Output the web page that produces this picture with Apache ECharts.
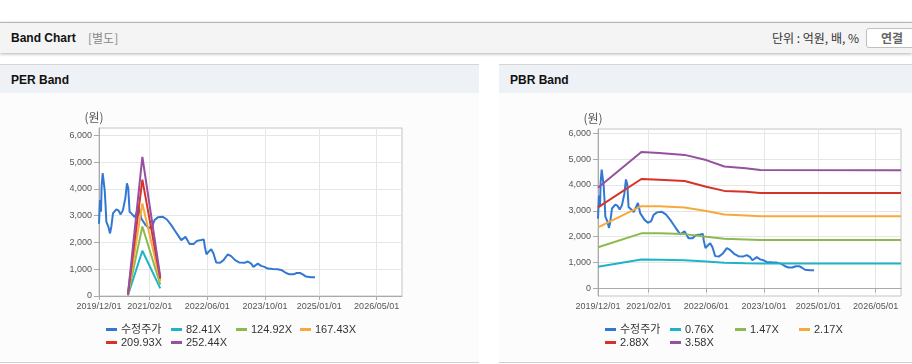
<!DOCTYPE html>
<html>
<head>
<meta charset="utf-8">
<script src="https://cdn.jsdelivr.net/npm/echarts@6/dist/echarts.min.js"></script>
<style>
  html, body { margin: 0; padding: 0; }
  body { width: 912px; height: 364px; position: relative; overflow: hidden; background: #fff;
         font-family: Arial, "Liberation Sans", "Noto Sans CJK KR", sans-serif; }
  .topbar { position: absolute; left: 0; top: 22px; width: 912px; height: 30px; background: #f4f4f4;
            border-top: 1px solid #b4b4b4; box-shadow: 0 1px 3px rgba(0,0,0,0.3); }
  .topbar .ttl { position: absolute; left: 11px; top: 8px; font-size: 12px; font-weight: bold; color: #111; }
  .topbar .sub { position: absolute; left: 88px; top: 7px; font-size: 12px; color: #888;
                 font-family: "Noto Sans CJK KR", sans-serif; line-height: 16px; }
  .topbar .unit { position: absolute; right: 53px; top: 7px; font-size: 12px; color: #333;
                  font-family: "Noto Sans CJK KR", sans-serif; line-height: 16px; }
  .topbar .btn { position: absolute; left: 866px; top: 5px; width: 56px; height: 18px; background: #fff;
                 border: 1px solid #c0c0c0; border-radius: 3px; font-size: 12px; font-weight: bold; color: #666;
                 font-family: "Noto Sans CJK KR", sans-serif; line-height: 18px; text-indent: 14px; }
  .panel { position: absolute; top: 64px; height: 298px; background: #fcfcfc; border-bottom: 1px solid #d0d0d0; }
  .panel .head { position: absolute; left: 0; top: 0; right: 0; height: 28px; background: #eef2f7;
                 border-top: 1px solid #d5d5d5; }
  .panel .head span { position: absolute; left: 11px; top: 8px; font-size: 12px; font-weight: bold; color: #111; }
  .chart { position: absolute; top: 29px; left: 0; right: 0; bottom: 0; }
</style>
</head>
<body>
<div class="topbar">
  <span class="ttl">Band Chart</span>
  <span class="sub">[별도]</span>
  <span class="unit">단위 : 억원, 배, %</span>
  <span class="btn">연결</span>
</div>
<div class="panel" style="left:0;width:479px;">
  <div class="head"><span>PER Band</span></div>
  <div class="chart" id="perChart"></div>
</div>
<div class="panel" style="left:499px;width:413px;">
  <div class="head"><span>PBR Band</span></div>
  <div class="chart" id="pbrChart"></div>
</div>
<script>
// 수정주가 (both charts)
var priceDates = ['2019/12/01','2019/12/09','2019/12/18','2019/12/23','2020/01/01','2020/01/09','2020/01/18','2020/01/26',
  '2020/02/01','2020/02/18','2020/03/03','2020/03/14','2020/03/28','2020/04/25','2020/05/15','2020/06/01','2020/06/20',
  '2020/07/10','2020/07/24','2020/08/04','2020/08/15','2020/09/07','2020/09/27','2020/11/02','2020/11/22','2020/12/28',
  '2021/01/25','2021/02/22','2021/03/14','2021/04/11','2021/05/23','2021/06/26','2021/08/02','2021/08/30','2021/09/27',
  '2021/10/25','2021/11/08','2021/11/30','2021/12/20','2022/01/03','2022/02/06','2022/03/06','2022/04/11','2022/05/04',
  '2022/05/12','2022/05/26','2022/06/12','2022/07/05','2022/07/24','2022/08/16','2022/09/18','2022/10/17','2022/11/22',
  '2022/12/20','2023/01/23','2023/02/28','2023/04/12','2023/05/10','2023/06/07','2023/06/26','2023/08/02','2023/08/30',
  '2023/09/27','2023/10/25','2023/12/06','2024/01/17','2024/02/23','2024/03/28','2024/04/25','2024/05/28','2024/06/26',
  '2024/07/24','2024/08/15','2024/09/12','2024/10/24','2024/11/27'];
var priceValues = [2700,3590,3150,4090,4590,4530,3960,3340,
  2775,2590,2340,2590,3090,3240,3190,3050,3210,
  3650,4210,4025,3150,3050,2950,3300,2900,2650,
  2540,2600,2840,2940,2960,2860,2650,2460,2275,
  2090,2060,2210,2060,1940,1940,2060,2090,2110,
  1840,1560,1650,1750,1590,1250,1240,1340,1560,
  1490,1340,1250,1240,1290,1210,1090,1210,1125,
  1090,1025,1010,1000,960,860,810,810,860,
  860,810,725,705,700];

// PER band
var perNames = ['82.41X', '124.92X', '167.43X', '209.93X', '252.44X'];
var perDates = ['2020/08/01', '2020/12/01', '2021/05/01'];
var per1 = [20, 1690, 285];
var per2 = [30, 2600, 430];
var per3 = [40, 3460, 560];
var per4 = [50, 4350, 650];
var per5 = [60, 5200, 720];

// PBR band
var pbrNames = ['0.76X', '1.47X', '2.17X', '2.88X', '3.58X'];
var pbrDates = ['2019/12/01','2020/12/01','2021/05/01','2021/12/01','2022/06/01','2022/11/01','2023/05/01','2023/09/01','2026/12/01'];
var pbr1 = [840, 1120, 1110, 1095, 1045, 995, 975, 965, 965];
var pbr2 = [1590, 2130, 2130, 2100, 2000, 1920, 1890, 1870, 1870];
var pbr3 = [2360, 3180, 3180, 3130, 2990, 2860, 2820, 2790, 2790];
var pbr4 = [3130, 4230, 4200, 4150, 3930, 3770, 3735, 3690, 3690];
var pbr5 = [3890, 5270, 5230, 5160, 4960, 4710, 4640, 4580, 4570];

var xTickLabels = ['2019/12/01', '2021/02/01', '2022/06/01', '2023/10/01', '2025/01/01', '2026/05/01'];
var yTickLabels = [0, 1000, 2000, 3000, 4000, 5000, 6000];

var colors = ['#3278d2', '#1eb4c8', '#8cb950', '#f5aa3c', '#d73228', '#9650a0'];

function t(s) {
  var p = s.split('/');
  return new Date(+p[0], +p[1] - 1, +p[2]).getTime();
}
function zip(dates, vals) {
  return dates.map(function (d, i) { return [t(d), vals[i]]; });
}
function pad(n) { return n < 10 ? '0' + n : '' + n; }
function fmtDate(v) {
  var d = new Date(v);
  return d.getFullYear() + '/' + pad(d.getMonth() + 1) + '/' + pad(d.getDate());
}

function drawBand(elId, bandNames, bandDates, bandVals, yMin, yMax, gridTop, gridHeight) {
  var myChart = echarts.init(document.getElementById(elId));
  var font = 'Arial, "Liberation Sans", sans-serif';
  var names = ['수정주가'].concat(bandNames);

  var series = [{
    name: '수정주가', type: 'line', showSymbol: false, symbol: 'none',
    lineStyle: {width: 2, color: colors[0]}, itemStyle: {color: colors[0]},
    data: zip(priceDates, priceValues), z: 2
  }];
  bandVals.forEach(function (vals, i) {
    series.push({
      name: bandNames[i], type: 'line', showSymbol: false, symbol: 'none',
      lineStyle: {width: 2, color: colors[i + 1]}, itemStyle: {color: colors[i + 1]},
      data: zip(bandDates, vals), z: 3
    });
  });

  // 범례 위치 (2줄, 4칸)
  var legPos = [[106, 231], [171, 231], [236, 231], [300, 231], [106, 244], [171, 244]];
  var legends = names.map(function (nm, i) {
    return {
      data: [nm], left: legPos[i][0], top: legPos[i][1], padding: 0,
      icon: 'rect', itemWidth: 11, itemHeight: 3, itemGap: 0, selectedMode: false,
      textStyle: {fontSize: 11, color: '#333', padding: [0, 0, 0, -1],
                  fontFamily: 'Arial, "Liberation Sans", "Noto Sans CJK KR", sans-serif'}
    };
  });

  // 시간축 대신 value 축 (timestamp) 사용
  var option = {
    animation: false,
    grid: {left: 99, top: gridTop, width: 303, height: gridHeight, show: true,
           borderColor: '#c4c4c4', backgroundColor: '#fff'},
    legend: legends,
    xAxis: {
      type: 'value', min: t('2019/12/01'), max: t('2026/12/01'),
      axisLine: {lineStyle: {color: '#aaa'}},
      axisTick: {show: true, length: 4, customValues: xTickLabels.map(t), lineStyle: {color: '#aaa'}},
      axisLabel: {customValues: xTickLabels.map(t), formatter: fmtDate, fontSize: 9, color: '#555',
                  fontFamily: font, margin: 6, hideOverlap: false},
      splitLine: {show: true, lineStyle: {color: '#e6e6e6'}}
    },
    yAxis: {
      type: 'value', min: yMin, max: yMax,
      name: '(원)', nameLocation: 'end', nameGap: 11,
      nameTextStyle: {color: '#555', fontSize: 12, align: 'center', verticalAlign: 'middle',
                      padding: [0, 10, 0, 0], fontFamily: '"Noto Sans CJK KR", sans-serif'},
      axisLine: {show: true, lineStyle: {color: '#aaa'}},
      axisTick: {show: true, length: 5, customValues: yTickLabels, lineStyle: {color: '#aaa'}},
      axisLabel: {customValues: yTickLabels, fontSize: 9, color: '#555', fontFamily: font, margin: 7,
                  formatter: function (v) { return v.toLocaleString('en-US'); }},
      splitLine: {show: true, lineStyle: {color: '#e6e6e6'}}
    },
    series: series
  };
  myChart.setOption(option);
}

drawBand('perChart', perNames, perDates, [per1, per2, per3, per4, per5], 0, 6280, 35, 168);
drawBand('pbrChart', pbrNames, pbrDates, [pbr1, pbr2, pbr3, pbr4, pbr5], -290, 6160, 36, 167);
</script>
</body>
</html>
